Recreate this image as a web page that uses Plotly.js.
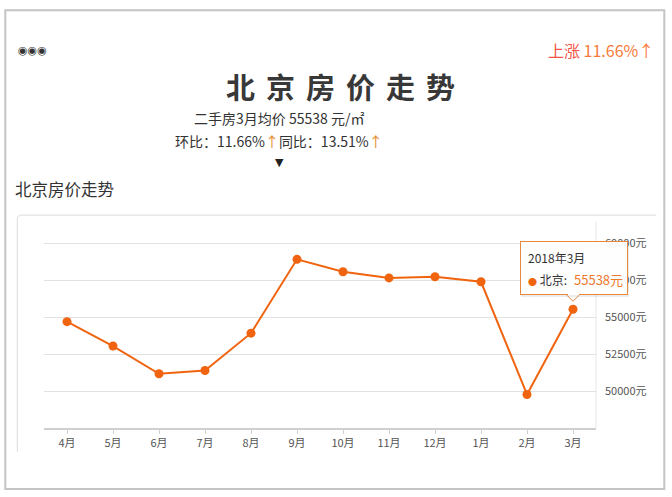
<!DOCTYPE html>
<html>
<head>
<meta charset="utf-8">
<script src="https://cdn.plot.ly/plotly-3.0.1.min.js"></script>
<style>html,body{margin:0;padding:0;background:#fff;}#chart{width:672px;height:497px;}</style>
</head>
<body>
<div id="chart"></div>
<script>
// ---- data ----
const months = ['4月','5月','6月','7月','8月','9月','10月','11月','12月','1月','2月','3月'];
const prices = [54700, 53050, 51170, 51390, 53920, 58920, 58080, 57660, 57740, 57400, 49770, 55538];
const yTicks = [50000, 52500, 55000, 57500, 60000];
const yTickText = ['50000元', '52500元', '55000元', '57500元', '60000元'];
const seriesName = '北京';
const tipLabel = '2018年3月';
const tipValue = '55538元';
const mainTitle = '北京房价走势';
const subTitle = '北京房价走势';
const avgText = '二手房3月均价 55538 元/㎡';

// ---- layout geometry ----
const W = 672, H = 497;
const ml = 43.7, mr = 76.3, mt = 235.9, mb = 69;
const pw = W - ml - mr, ph = H - mt - mb;
const PX = px => (px - ml) / pw;
const PY = py => (H - mb - py) / ph;
const FONT = '"Noto Sans CJK SC", "Noto Sans", sans-serif';
const ORANGE = '#f0640f';
const TIPBORDER = '#e8873e';
const last = months.length - 1;

function txt(x, y, text, opts) {
  return Object.assign({
    xref: 'paper', yref: 'paper', x: PX(x), y: PY(y), text: text, showarrow: false,
    xanchor: 'center', yanchor: 'middle',
    font: {family: FONT, size: 13, color: '#333'}
  }, opts || {});
}
function tip(opts) {
  return Object.assign({
    xref: 'x', yref: 'y', x: last, y: prices[last], showarrow: false,
    xanchor: 'center', yanchor: 'bottom', text: ' ',
    font: {family: FONT, size: 12, color: '#333'}
  }, opts);
}

const trace = {
  type: 'scatter', mode: 'lines+markers', x: months, y: prices, name: seriesName,
  line: {color: ORANGE, width: 2},
  marker: {color: ORANGE, size: 9},
  hoverinfo: 'skip', showlegend: false
};

const shapes = [
  // outer frame
  {type: 'rect', xref: 'paper', yref: 'paper', x0: PX(5), x1: PX(664), y0: PY(10), y1: PY(489),
   line: {color: '#c4c4c4', width: 2}, fillcolor: 'rgba(0,0,0,0)', layer: 'below'},
  // card border (top + left)
  {type: 'path', xref: 'paper', yref: 'paper',
   path: `M ${PX(17)},${PY(452)} L ${PX(17)},${PY(219)} Q ${PX(17)},${PY(215)} ${PX(21)},${PY(215)} L ${PX(656)},${PY(215)}`,
   line: {color: '#dcdcdc', width: 1}, layer: 'below'},
  // right plot boundary
  {type: 'line', xref: 'paper', yref: 'paper', x0: 1, x1: 1, y0: 0, y1: PY(222),
   line: {color: '#e6e6e6', width: 1}, layer: 'below'},
  // pointer fill
  {type: 'path', xref: 'x', yref: 'y', xsizemode: 'pixel', ysizemode: 'pixel',
   xanchor: last, yanchor: prices[last], path: 'M -6,14 L 0,8 L 6,14 Z',
   line: {width: 0}, fillcolor: '#ffffff', layer: 'above'},
  // pointer outline
  {type: 'path', xref: 'x', yref: 'y', xsizemode: 'pixel', ysizemode: 'pixel',
   xanchor: last, yanchor: prices[last], path: 'M -6,14 L 0,8 L 6,14',
   line: {color: TIPBORDER, width: 1}, fillcolor: 'rgba(0,0,0,0)', layer: 'above'}
];

const annotations = [
  txt(32, 50, '◉◉◉', {font: {family: '"DejaVu Sans", sans-serif', size: 11, color: '#333'}}),
  txt(656, 50, '<span style="color:#f25545">上涨</span> <span style="color:#f77a3a">11.66%↑</span>',
      {xanchor: 'right', font: {family: FONT, size: 16, color: '#f4683f'}}),
  txt(346, 86, '<b><span style="letter-spacing:11px">' + mainTitle + '</span></b>',
      {font: {family: FONT, size: 29, color: '#383838'}}),
  txt(279, 118, avgText, {font: {family: FONT, size: 14, color: '#333'}}),
  txt(279, 141, '环比：11.66%<span style="color:#e8892a">↑</span>同比：13.51%<span style="color:#e8892a">↑</span>',
      {font: {family: FONT, size: 14, color: '#333'}}),
  txt(279, 162, '▼', {font: {family: '"DejaVu Sans", sans-serif', size: 11, color: '#222'}}),
  txt(13, 189, subTitle, {xanchor: 'left', font: {family: FONT, size: 16.5, color: '#333'}}),
  // tooltip shadow + box
  tip({xshift: 2, yshift: 12, width: 108, height: 54, borderpad: 0, borderwidth: 0,
       bgcolor: 'rgba(0,0,0,0.07)'}),
  tip({xshift: 1, yshift: 14, width: 106, height: 52, borderpad: 0, borderwidth: 1,
       bordercolor: TIPBORDER, bgcolor: 'rgba(255,255,255,0.94)'}),
  // erase box border above pointer
  tip({yshift: 14, width: 11, height: 2, borderpad: 0, borderwidth: 0, bgcolor: '#ffffff',
       font: {family: FONT, size: 1, color: '#fff'}}),
  // tooltip texts
  tip({xshift: -47, yshift: 52, xanchor: 'left', yanchor: 'middle', text: tipLabel}),
  tip({xshift: -47, yshift: 30, xanchor: 'left', yanchor: 'middle',
       text: '<span style="color:' + ORANGE + ';font-size:9px">●</span> ' + seriesName + ':'}),
  tip({xshift: -1, yshift: 30, xanchor: 'left', yanchor: 'middle', text: tipValue,
       font: {family: FONT, size: 13, color: '#ee7a2e'}})
];

const layout = {
  width: W, height: H,
  margin: {l: ml, r: mr, t: mt, b: mb, pad: 0},
  paper_bgcolor: '#ffffff', plot_bgcolor: 'rgba(0,0,0,0)',
  showlegend: false,
  xaxis: {
    type: 'category', range: [-0.5, months.length - 0.5], fixedrange: true,
    showgrid: false, zeroline: false,
    showline: true, linecolor: '#cfcfcf', linewidth: 1.5,
    ticks: 'outside', ticklen: 4, tickcolor: '#cfcfcf',
    tickfont: {family: FONT, size: 11, color: '#555'}
  },
  yaxis: {
    side: 'right', range: [47500, 60500], fixedrange: true,
    tickmode: 'array', tickvals: yTicks, ticktext: yTickText,
    showgrid: true, gridcolor: '#e2e2e2', gridwidth: 1,
    zeroline: false, showline: false, ticks: '', ticklabelstandoff: 8,
    tickfont: {family: FONT, size: 11, color: '#555'}
  },
  shapes: shapes,
  annotations: annotations
};

Plotly.newPlot('chart', [trace], layout, {staticPlot: true, displayModeBar: false});
</script>
</body>
</html>
